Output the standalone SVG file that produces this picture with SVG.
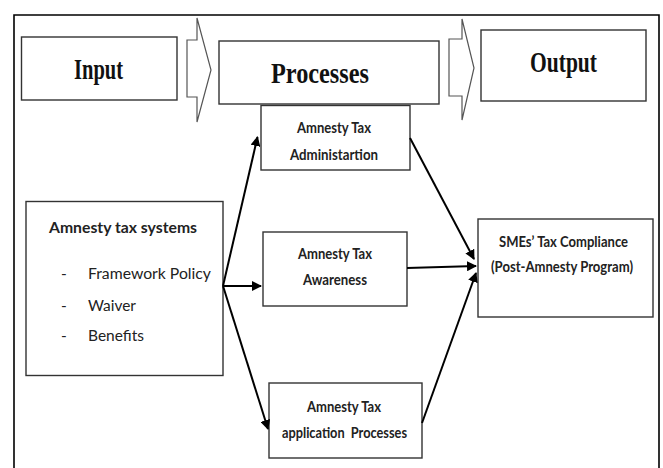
<svg xmlns="http://www.w3.org/2000/svg" width="663" height="468" viewBox="0 0 663 468">
  <style>
    .frame { fill: none; stroke: #000; stroke-width: 1.6; }
    .box { fill: #fff; stroke: #333; stroke-width: 1.4; }
    .blk { fill: #fff; stroke: #555; stroke-width: 1.2; stroke-linejoin: miter; }
    .head { font-family: "Liberation Serif", "Times New Roman", serif; font-weight: bold; font-size: 30px; fill: #111; }
    .lbl { font-family: Lato, "Noto Sans", sans-serif; font-weight: bold; font-size: 14.5px; fill: #222; }
    .item { font-family: Lato, "Noto Sans", sans-serif; font-size: 15.5px; fill: #222; }
    .conn { fill: none; stroke: #000; stroke-width: 2; }
  </style>
  <defs>
    <marker id="arrow" viewBox="0 0 10 10" refX="9" refY="5" markerWidth="5" markerHeight="5" orient="auto" markerUnits="strokeWidth">
      <path d="M0,0 L10,5 L0,10 Z" fill="#000"/>
    </marker>
  </defs>

  <rect width="663" height="468" fill="#fff"/>

  <!-- outer frame, open at the bottom -->
  <path class="frame" d="M14,468 V15 H659 V468"/>

  <!-- header row -->
  <g id="input-header">
    <rect class="box" x="21.5" y="37" width="155.5" height="63"/>
    <text class="head" x="74" y="79" textLength="49" lengthAdjust="spacingAndGlyphs">Input</text>
  </g>
  <g id="flow-arrow-1">
    <path class="blk" d="M187,40 H197 V18 L211,70 L197,122 V97 H187 Z"/>
  </g>
  <g id="processes-header">
    <rect class="box" x="219" y="41" width="220" height="63"/>
    <text class="head" x="271" y="83" textLength="98" lengthAdjust="spacingAndGlyphs">Processes</text>
  </g>
  <g id="flow-arrow-2">
    <path class="blk" d="M449,39 H462 V19 L474,68 L462,120 V96 H449 Z"/>
  </g>
  <g id="output-header">
    <rect class="box" x="481" y="30" width="165" height="71"/>
    <text class="head" x="530" y="72" textLength="67" lengthAdjust="spacingAndGlyphs">Output</text>
  </g>

  <!-- input node -->
  <g id="amnesty-tax-systems">
    <rect class="box" x="26" y="201.5" width="197" height="174"/>
    <text class="lbl" x="49" y="233" textLength="148" lengthAdjust="spacingAndGlyphs" style="font-size:15.5px">Amnesty tax systems</text>
    <text class="item" x="61" y="279">-</text>
    <text class="item" x="88" y="279" textLength="123" lengthAdjust="spacingAndGlyphs">Framework Policy</text>
    <text class="item" x="61" y="310.5">-</text>
    <text class="item" x="88" y="310.5" textLength="48" lengthAdjust="spacingAndGlyphs">Waiver</text>
    <text class="item" x="61" y="341">-</text>
    <text class="item" x="88" y="341" textLength="56" lengthAdjust="spacingAndGlyphs">Benefits</text>
  </g>

  <!-- process nodes -->
  <g id="administration">
    <rect class="box" x="261" y="105.5" width="149" height="64.5"/>
    <text class="lbl" x="297" y="133" textLength="74" lengthAdjust="spacingAndGlyphs">Amnesty Tax</text>
    <text class="lbl" x="290" y="160" textLength="88" lengthAdjust="spacingAndGlyphs">Administartion</text>
  </g>
  <g id="awareness">
    <rect class="box" x="263" y="232" width="144" height="74"/>
    <text class="lbl" x="298" y="259" textLength="74" lengthAdjust="spacingAndGlyphs">Amnesty Tax</text>
    <text class="lbl" x="303" y="285" textLength="64" lengthAdjust="spacingAndGlyphs">Awareness</text>
  </g>
  <g id="application-processes">
    <rect class="box" x="269" y="383" width="153" height="75"/>
    <text class="lbl" x="307" y="411.5" textLength="74" lengthAdjust="spacingAndGlyphs">Amnesty Tax</text>
    <text class="lbl" x="282" y="438" textLength="125" lengthAdjust="spacingAndGlyphs" xml:space="preserve">application  Processes</text>
  </g>

  <!-- output node -->
  <g id="sme-compliance">
    <rect class="box" x="478" y="219" width="175" height="98"/>
    <text class="lbl" x="499" y="247" textLength="129" lengthAdjust="spacingAndGlyphs">SMEs’ Tax Compliance</text>
    <text class="lbl" x="491" y="272" textLength="142" lengthAdjust="spacingAndGlyphs">(Post-Amnesty Program)</text>
  </g>

  <!-- connectors -->
  <g id="connectors">
    <line class="conn" x1="223" y1="286" x2="257.5" y2="137" marker-end="url(#arrow)"/>
    <line class="conn" x1="223" y1="286" x2="261" y2="286" marker-end="url(#arrow)"/>
    <line class="conn" x1="223" y1="286" x2="268" y2="429" marker-end="url(#arrow)"/>
    <line class="conn" x1="410" y1="138" x2="474" y2="259" marker-end="url(#arrow)"/>
    <line class="conn" x1="407" y1="268" x2="476" y2="266" marker-end="url(#arrow)"/>
    <line class="conn" x1="422" y1="423" x2="476" y2="273" marker-end="url(#arrow)"/>
  </g>
</svg>
